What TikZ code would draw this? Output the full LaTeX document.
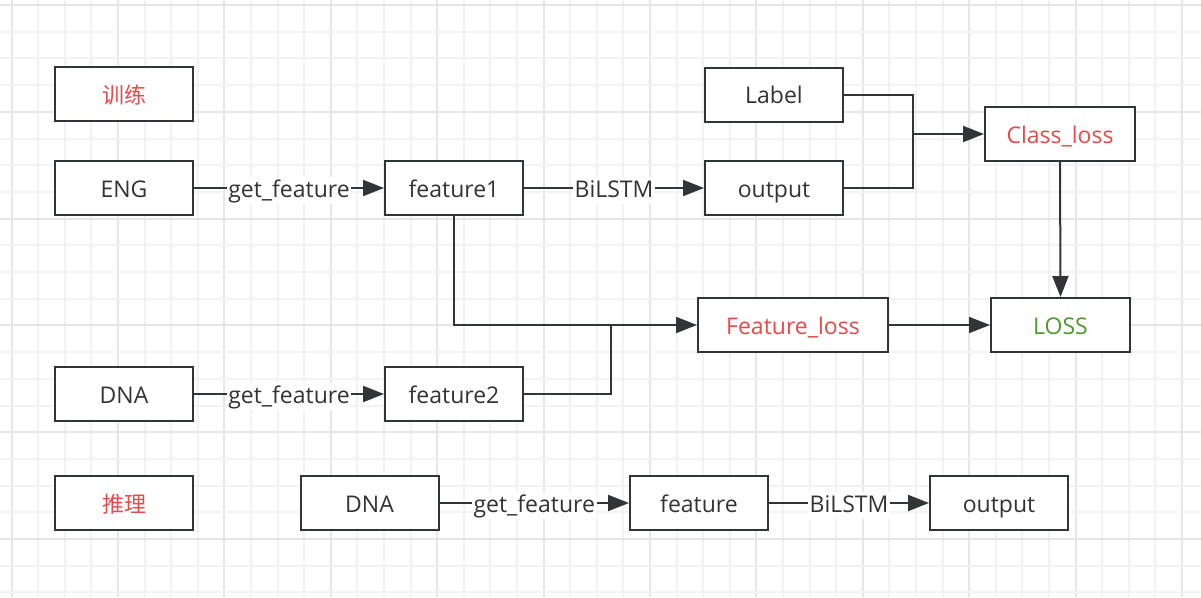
\documentclass[tikz,border=0pt]{standalone}
\usepackage{fontspec}
\setmainfont{Open Sans}
\newfontfamily\cjk{Noto Sans CJK SC}
\usetikzlibrary{arrows.meta}
\definecolor{boxc}{HTML}{323538}
\definecolor{txtc}{HTML}{333333}
\definecolor{redc}{HTML}{E64A4A}
\definecolor{greenc}{HTML}{4D9A2A}
\definecolor{gridminor}{HTML}{F2F2F2}
\definecolor{gridmajor}{HTML}{E6E6E6}
\tikzset{
  box/.style={draw=boxc, line width=2pt, fill=white, minimum width=138pt, minimum height=54pt, inner sep=0pt, text=txtc, font=\fontsize{23}{27}\selectfont, text height=19pt, text depth=1pt},
  conn/.style={draw=boxc, line width=2pt},
  arr/.style={conn, -{Triangle[length=21pt,width=16pt]}},
  lbl/.style={fill=white, inner sep=1.5pt, text=txtc, font=\fontsize{23}{27}\selectfont, text height=19pt, text depth=5pt, yshift=-2pt},
}
\begin{document}
\begin{tikzpicture}[x=1pt,y=-1pt]
\useasboundingbox (0,0) rectangle (1201,597);
\fill[white] (0,0) rectangle (1201,597);
% grid
\foreach \i in {0,...,44} {
  \pgfmathsetmacro{\xx}{11.6+26.6*\i}
  \pgfmathtruncatemacro{\m}{mod(\i,4)}
  \ifnum\m=0 \draw[gridmajor,line width=2pt] (\xx,0) -- (\xx,597);
  \else \draw[gridminor,line width=2pt] (\xx,0) -- (\xx,597); \fi
}
\foreach \i in {0,...,22} {
  \pgfmathsetmacro{\yy}{5+26.7*\i}
  \pgfmathtruncatemacro{\m}{mod(\i,4)}
  \ifnum\m=0 \draw[gridmajor,line width=2pt] (0,\yy) -- (1201,\yy);
  \else \draw[gridminor,line width=2pt] (0,\yy) -- (1201,\yy); \fi
}
% nodes
\node[box, text=redc, font=\cjk\fontsize{22}{26}\selectfont] (train) at (124,94) {训练};
\node[box] (eng) at (124,188) {ENG};
\node[box] (f1) at (454,188) {feature1};
\node[box] (out1) at (774,188) {output};
\node[box] (label) at (774,94.5) {Label};
\node[box, minimum width=150pt, text=redc] (class) at (1060,134) {Class\_loss};
\node[box, minimum width=190pt, text=redc] (floss) at (793,325) {Feature\_loss};
\node[box, minimum width=139pt, text=greenc] (loss) at (1060.5,325) {LOSS};
\node[box] (dna1) at (124,394) {DNA};
\node[box] (f2) at (454,394) {feature2};
\node[box, text=redc, font=\cjk\fontsize{22}{26}\selectfont] (infer) at (124,503) {推理};
\node[box] (dna2) at (369.5,503) {DNA};
\node[box] (feat) at (699,503) {feature};
\node[box] (out2) at (999,503) {output};
% junctions
\coordinate (j1) at (913,134);
\coordinate (j2) at (611,325);
% connectors
\draw[arr] (eng) -- node[lbl] {get\_feature} (f1);
\draw[arr] (f1) -- node[lbl] {BiLSTM} (out1);
\draw[arr] (dna1) -- node[lbl] {get\_feature} (f2);
\draw[arr] (dna2) -- node[lbl] {get\_feature} (feat);
\draw[arr] (feat) -- node[lbl] {BiLSTM} (out2);
\draw[conn] (label.east) -| (j1);
\draw[conn] (out1.east) -| (j1);
\draw[arr] (j1) -- (class.west);
\draw[arr] (class.south) -- (loss.north);
\draw[arr] (floss.east) -- (loss.west);
\draw[arr] (f1.south) |- (floss.west);
\draw[conn] (f2.east) -| (j2);
\end{tikzpicture}
\end{document}
